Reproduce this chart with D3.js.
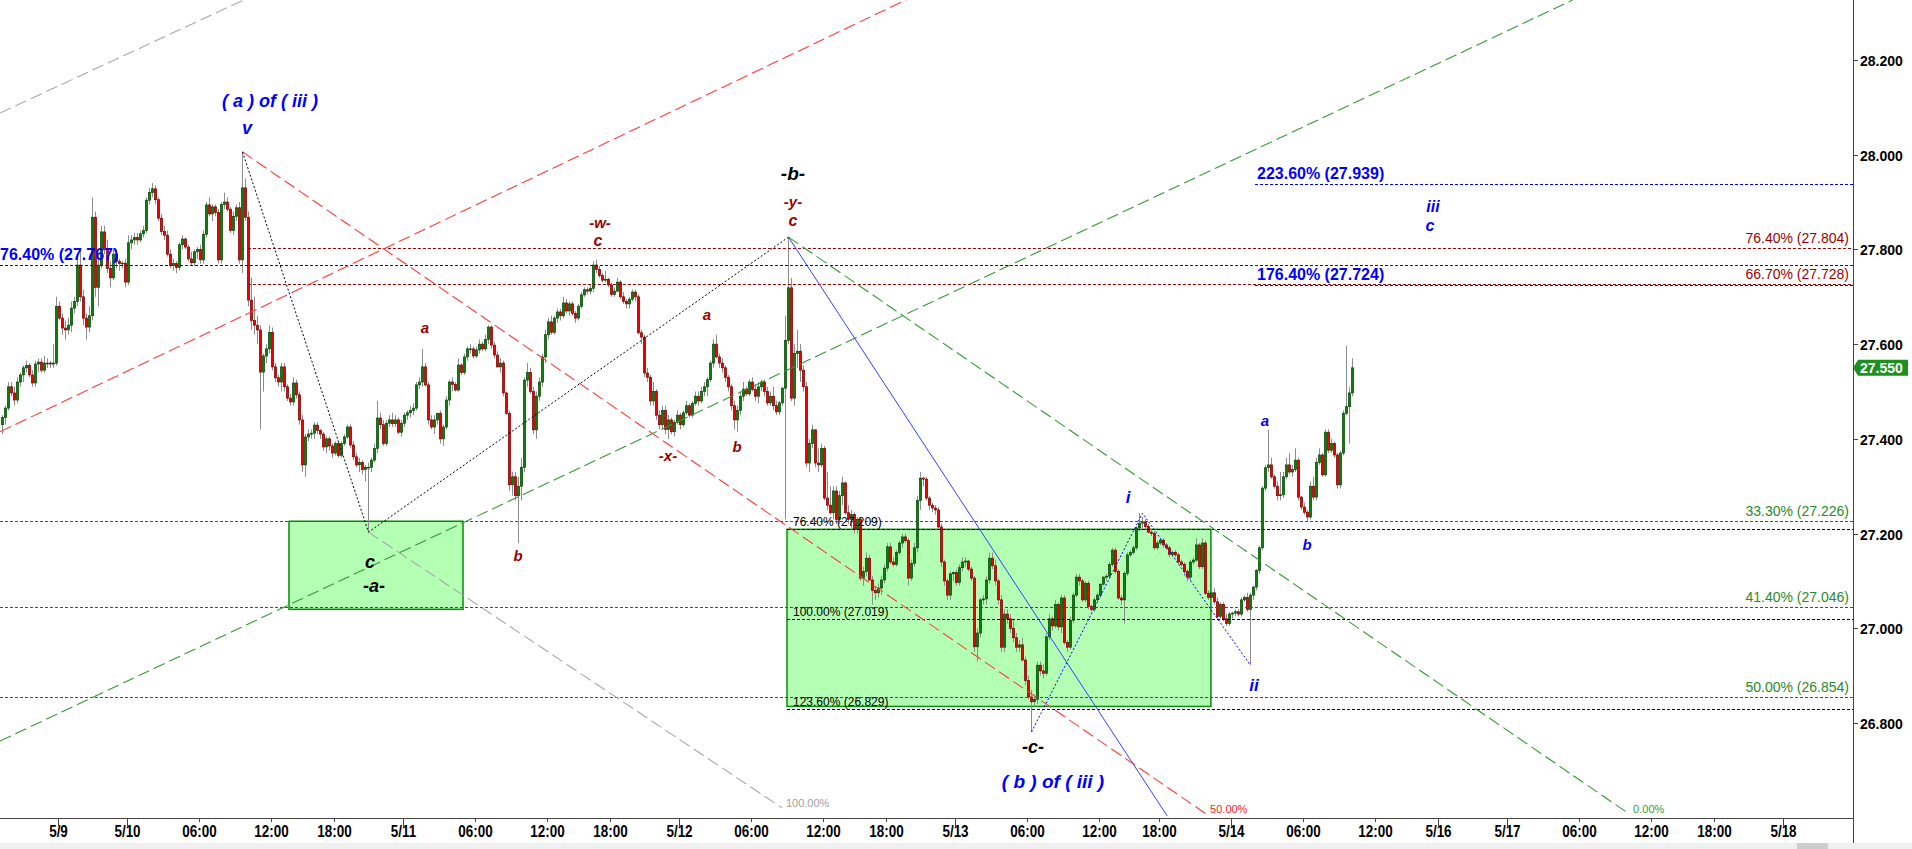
<!DOCTYPE html>
<html><head><meta charset="utf-8">
<script src="https://cdn.jsdelivr.net/npm/d3@7"></script>
<style>
html,body{margin:0;padding:0;background:#fff;overflow:hidden}
svg{display:block}
text{font-family:"Liberation Sans",Arial,Helvetica,sans-serif}
</style>
</head><body>
<svg id="chart" width="1912" height="849"></svg>
<script>
// ---------------- DATA ----------------
const firstBar = -18;            // bar index of the first candle (15-min bars)
const candles = [                // [open, high, low, close]
[27.43,27.45,27.41,27.445],[27.445,27.47,27.43,27.465],[27.465,27.52,27.46,27.51],[27.51,27.52,27.49,27.497],[27.497,27.51,27.47,27.482],
[27.482,27.53,27.475,27.52],[27.52,27.54,27.51,27.535],[27.535,27.555,27.52,27.55],[27.55,27.565,27.54,27.555],[27.555,27.56,27.53,27.535],
[27.535,27.545,27.51,27.518],[27.518,27.565,27.51,27.558],[27.558,27.57,27.54,27.562],[27.562,27.57,27.54,27.545],[27.545,27.575,27.54,27.56],
[27.56,27.57,27.55,27.56],[27.56,27.565,27.55,27.558],[27.558,27.60,27.55,27.56],
// 0
[27.56,27.70,27.555,27.68],[27.68,27.69,27.65,27.655],[27.655,27.665,27.62,27.634],[27.634,27.65,27.61,27.63],[27.63,27.655,27.62,27.64],
[27.64,27.69,27.625,27.676],[27.676,27.70,27.665,27.69],[27.69,27.79,27.68,27.767],[27.767,27.80,27.69,27.70],[27.70,27.715,27.64,27.655],
// 10
[27.655,27.665,27.61,27.636],[27.636,27.68,27.625,27.66],[27.66,27.91,27.65,27.868],[27.868,27.88,27.70,27.72],[27.72,27.79,27.68,27.767],
[27.767,27.85,27.76,27.837],[27.837,27.85,27.79,27.80],[27.80,27.82,27.75,27.76],[27.76,27.775,27.72,27.74],[27.74,27.80,27.735,27.79],
// 20
[27.79,27.80,27.76,27.775],[27.775,27.78,27.755,27.77],[27.77,27.775,27.76,27.771],[27.771,27.78,27.72,27.731],[27.731,27.83,27.725,27.814],
[27.814,27.83,27.80,27.82],[27.82,27.835,27.81,27.825],[27.825,27.835,27.81,27.82],[27.82,27.84,27.815,27.833],[27.833,27.85,27.825,27.84],
// 30
[27.84,27.91,27.835,27.904],[27.904,27.93,27.895,27.92],[27.92,27.94,27.91,27.928],[27.928,27.935,27.895,27.905],[27.905,27.91,27.86,27.866],
[27.866,27.875,27.83,27.838],[27.838,27.85,27.82,27.83],[27.83,27.84,27.785,27.79],[27.79,27.80,27.76,27.766],[27.766,27.78,27.755,27.77],
// 40
[27.77,27.775,27.75,27.762],[27.762,27.815,27.755,27.81],[27.81,27.83,27.80,27.822],[27.822,27.825,27.80,27.805],[27.805,27.81,27.775,27.78],
[27.78,27.795,27.765,27.772],[27.772,27.80,27.765,27.795],[27.795,27.805,27.78,27.80],[27.80,27.81,27.77,27.778],[27.778,27.84,27.77,27.832],
// 50
[27.832,27.90,27.825,27.894],[27.894,27.91,27.87,27.875],[27.875,27.895,27.86,27.89],[27.89,27.895,27.87,27.878],[27.878,27.885,27.77,27.778],
[27.778,27.90,27.77,27.895],[27.895,27.92,27.885,27.90],[27.90,27.91,27.88,27.885],[27.885,27.89,27.835,27.84],[27.84,27.88,27.83,27.87],
// 60
[27.87,27.895,27.86,27.888],[27.888,27.90,27.77,27.778],[27.778,28.006,27.75,27.93],[27.93,27.95,27.86,27.868],[27.868,27.88,27.68,27.693],
[27.693,27.74,27.63,27.65],[27.65,27.70,27.62,27.64],[27.64,27.66,27.60,27.63],[27.63,27.64,27.42,27.541],[27.541,27.58,27.50,27.575],
// 70
[27.575,27.60,27.56,27.59],[27.59,27.64,27.58,27.625],[27.625,27.635,27.545,27.552],[27.552,27.56,27.52,27.529],[27.529,27.535,27.51,27.52],
[27.52,27.56,27.50,27.552],[27.552,27.56,27.50,27.51],[27.51,27.515,27.48,27.486],[27.486,27.495,27.47,27.478],[27.478,27.53,27.47,27.518],
// 80
[27.518,27.525,27.485,27.493],[27.493,27.50,27.43,27.44],[27.44,27.45,27.33,27.345],[27.345,27.41,27.32,27.404],[27.404,27.42,27.395,27.41],
[27.41,27.42,27.40,27.412],[27.412,27.435,27.40,27.429],[27.429,27.435,27.41,27.418],[27.418,27.42,27.40,27.41],[27.41,27.415,27.375,27.383],
// 90
[27.383,27.405,27.37,27.40],[27.40,27.405,27.375,27.385],[27.385,27.39,27.36,27.37],[27.37,27.395,27.365,27.39],[27.39,27.395,27.36,27.365],
[27.365,27.395,27.36,27.39],[27.39,27.41,27.385,27.404],[27.404,27.43,27.40,27.425],[27.425,27.43,27.38,27.387],[27.387,27.395,27.355,27.362],
// 100
[27.362,27.37,27.34,27.345],[27.345,27.36,27.33,27.35],[27.35,27.355,27.325,27.335],[27.335,27.345,27.31,27.34],[27.34,27.35,27.203,27.34],
[27.34,27.36,27.33,27.355],[27.355,27.39,27.35,27.38],[27.38,27.48,27.37,27.444],[27.444,27.455,27.42,27.43],[27.43,27.44,27.385,27.39],
// 110
[27.39,27.44,27.385,27.433],[27.433,27.45,27.425,27.44],[27.44,27.455,27.425,27.432],[27.432,27.45,27.425,27.44],[27.44,27.445,27.41,27.414],
[27.414,27.44,27.405,27.433],[27.433,27.455,27.425,27.45],[27.45,27.46,27.44,27.455],[27.455,27.47,27.445,27.46],[27.46,27.475,27.45,27.465],
// 120
[27.465,27.52,27.46,27.514],[27.514,27.53,27.505,27.52],[27.52,27.59,27.51,27.552],[27.552,27.56,27.51,27.514],[27.514,27.52,27.43,27.44],
[27.44,27.45,27.42,27.425],[27.425,27.45,27.41,27.44],[27.44,27.455,27.43,27.454],[27.454,27.46,27.39,27.40],[27.40,27.43,27.385,27.425],
// 130
[27.425,27.49,27.42,27.482],[27.482,27.525,27.47,27.52],[27.52,27.53,27.50,27.515],[27.515,27.52,27.50,27.503],[27.503,27.57,27.50,27.556],
[27.556,27.56,27.535,27.54],[27.54,27.58,27.535,27.573],[27.573,27.595,27.565,27.59],[27.59,27.60,27.58,27.59],[27.59,27.595,27.57,27.575],
// 140
[27.575,27.595,27.57,27.588],[27.588,27.61,27.58,27.60],[27.60,27.605,27.585,27.59],[27.59,27.62,27.585,27.61],[27.61,27.64,27.60,27.636],
[27.636,27.64,27.59,27.598],[27.598,27.605,27.57,27.577],[27.577,27.585,27.55,27.552],[27.552,27.57,27.54,27.56],[27.56,27.565,27.49,27.497],
// 150
[27.497,27.50,27.45,27.454],[27.454,27.46,27.29,27.303],[27.303,27.33,27.28,27.32],[27.32,27.33,27.27,27.28],[27.28,27.32,27.18,27.30],
[27.30,27.36,27.27,27.34],[27.34,27.53,27.33,27.524],[27.524,27.56,27.51,27.54],[27.54,27.55,27.495,27.50],[27.50,27.51,27.41,27.419],
// 160
[27.419,27.50,27.40,27.49],[27.49,27.53,27.48,27.52],[27.52,27.58,27.51,27.573],[27.573,27.63,27.56,27.62],[27.62,27.655,27.61,27.647],
[27.647,27.66,27.62,27.625],[27.625,27.66,27.62,27.655],[27.655,27.675,27.645,27.668],[27.668,27.675,27.65,27.66],[27.66,27.70,27.655,27.687],
// 170
[27.687,27.695,27.665,27.67],[27.67,27.69,27.66,27.685],[27.685,27.69,27.66,27.665],[27.665,27.67,27.645,27.655],[27.655,27.685,27.65,27.68],
[27.68,27.71,27.675,27.704],[27.704,27.72,27.70,27.715],[27.715,27.72,27.705,27.712],[27.712,27.725,27.705,27.718],[27.718,27.775,27.71,27.767],
// 180
[27.767,27.778,27.75,27.758],[27.758,27.765,27.74,27.745],[27.745,27.75,27.73,27.735],[27.735,27.755,27.73,27.737],[27.737,27.74,27.72,27.725],
[27.725,27.73,27.70,27.705],[27.705,27.72,27.70,27.712],[27.712,27.74,27.71,27.731],[27.731,27.735,27.695,27.70],[27.70,27.71,27.685,27.69],
// 190
[27.69,27.695,27.675,27.685],[27.685,27.70,27.675,27.695],[27.695,27.715,27.69,27.71],[27.71,27.715,27.69,27.70],[27.70,27.705,27.62,27.624],
[27.624,27.63,27.60,27.615],[27.615,27.62,27.53,27.539],[27.539,27.55,27.52,27.53],[27.53,27.535,27.47,27.48],[27.48,27.52,27.47,27.50],
// 200
[27.50,27.505,27.44,27.45],[27.45,27.46,27.42,27.43],[27.43,27.47,27.42,27.46],[27.46,27.47,27.41,27.42],[27.42,27.45,27.40,27.44],
[27.44,27.445,27.41,27.415],[27.415,27.44,27.405,27.435],[27.435,27.46,27.43,27.45],[27.45,27.455,27.42,27.43],[27.43,27.46,27.425,27.455],
// 210
[27.455,27.48,27.45,27.47],[27.47,27.475,27.445,27.45],[27.45,27.48,27.445,27.475],[27.475,27.50,27.47,27.49],[27.49,27.50,27.47,27.48],
[27.48,27.51,27.475,27.50],[27.50,27.52,27.49,27.51],[27.51,27.53,27.49,27.525],[27.525,27.565,27.52,27.56],[27.56,27.61,27.55,27.60],
// 220
[27.60,27.62,27.57,27.573],[27.573,27.58,27.55,27.56],[27.56,27.57,27.54,27.55],[27.55,27.555,27.52,27.53],[27.53,27.535,27.50,27.51],
[27.51,27.515,27.46,27.47],[27.47,27.48,27.42,27.44],[27.44,27.47,27.415,27.46],[27.46,27.50,27.45,27.49],[27.49,27.52,27.48,27.505],
// 230
[27.505,27.51,27.49,27.495],[27.495,27.525,27.49,27.52],[27.52,27.53,27.50,27.504],[27.504,27.515,27.48,27.49],[27.49,27.52,27.475,27.51],
[27.51,27.525,27.50,27.52],[27.52,27.525,27.49,27.50],[27.50,27.51,27.47,27.476],[27.476,27.50,27.47,27.49],[27.49,27.51,27.46,27.47],
// 240
[27.47,27.48,27.45,27.457],[27.457,27.48,27.45,27.476],[27.476,27.51,27.47,27.507],[27.507,27.66,27.23,27.608],[27.608,27.826,27.60,27.719],
[27.719,27.74,27.48,27.486],[27.486,27.60,27.47,27.58],[27.58,27.63,27.55,27.585],[27.585,27.60,27.52,27.545],[27.545,27.555,27.50,27.51],
// 250
[27.51,27.52,27.34,27.349],[27.349,27.40,27.33,27.39],[27.39,27.43,27.38,27.419],[27.419,27.42,27.34,27.349],[27.349,27.38,27.33,27.345],
[27.345,27.39,27.34,27.38],[27.38,27.385,27.27,27.275],[27.275,27.33,27.25,27.26],[27.26,27.30,27.24,27.244],[27.244,27.30,27.23,27.29],
// 260
[27.29,27.30,27.22,27.23],[27.23,27.29,27.22,27.28],[27.28,27.32,27.26,27.307],[27.307,27.31,27.24,27.244],[27.244,27.26,27.22,27.23],
[27.23,27.25,27.21,27.24],[27.24,27.245,27.20,27.21],[27.21,27.235,27.20,27.23],[27.23,27.235,27.10,27.106],[27.106,27.13,27.09,27.12],
// 270
[27.12,27.16,27.11,27.148],[27.148,27.155,27.10,27.102],[27.102,27.11,27.05,27.08],[27.08,27.09,27.06,27.075],[27.075,27.095,27.065,27.085],
[27.085,27.11,27.07,27.102],[27.102,27.135,27.095,27.127],[27.127,27.18,27.12,27.172],[27.172,27.18,27.135,27.14],[27.14,27.15,27.13,27.135],
// 280
[27.135,27.165,27.13,27.16],[27.16,27.185,27.155,27.18],[27.18,27.20,27.17,27.193],[27.193,27.20,27.18,27.185],[27.185,27.19,27.09,27.106],
[27.106,27.145,27.10,27.137],[27.137,27.18,27.13,27.17],[27.17,27.28,27.16,27.27],[27.27,27.33,27.25,27.317],[27.317,27.32,27.30,27.315],
// 290
[27.315,27.32,27.27,27.275],[27.275,27.28,27.25,27.26],[27.26,27.265,27.245,27.254],[27.254,27.26,27.24,27.25],[27.25,27.255,27.21,27.214],
[27.214,27.22,27.13,27.14],[27.14,27.145,27.09,27.10],[27.10,27.105,27.06,27.07],[27.07,27.12,27.06,27.115],[27.115,27.12,27.10,27.118],
// 300
[27.118,27.125,27.09,27.097],[27.097,27.135,27.09,27.128],[27.128,27.15,27.12,27.14],[27.14,27.15,27.13,27.142],[27.142,27.145,27.12,27.125],
[27.125,27.13,27.10,27.106],[27.106,27.11,26.95,26.961],[26.961,27.00,26.93,26.99],[26.99,27.065,26.98,27.06],[27.06,27.07,27.05,27.062],
// 310
[27.062,27.11,27.05,27.102],[27.102,27.16,27.095,27.148],[27.148,27.16,27.125,27.132],[27.132,27.145,27.09,27.10],[27.10,27.105,27.05,27.06],
[27.06,27.07,26.95,26.96],[26.96,27.04,26.95,27.03],[27.03,27.04,27.01,27.02],[27.02,27.03,26.99,27.00],[27.00,27.02,26.97,26.98],
// 320
[26.98,26.99,26.95,26.96],[26.96,26.975,26.95,26.965],[26.965,26.98,26.93,26.933],[26.933,26.94,26.88,26.89],[26.89,26.90,26.85,26.855],
[26.855,26.87,26.781,26.845],[26.845,26.86,26.835,26.85],[26.85,26.93,26.84,26.922],[26.922,26.93,26.90,26.91],[26.91,26.925,26.895,26.905],
// 330
[26.905,26.99,26.90,26.982],[26.982,27.03,26.975,27.02],[27.02,27.025,26.995,27.005],[27.005,27.06,27.00,27.05],[27.05,27.055,26.995,27.003],
[27.003,27.07,26.99,27.064],[27.064,27.07,26.965,26.97],[26.97,26.975,26.95,26.96],[26.96,27.025,26.955,27.017],[27.017,27.075,27.01,27.07],
// 340
[27.07,27.115,27.065,27.108],[27.108,27.115,27.09,27.10],[27.10,27.105,27.055,27.06],[27.06,27.10,27.055,27.095],[27.095,27.10,27.04,27.046],
[27.046,27.05,27.035,27.04],[27.04,27.065,27.035,27.06],[27.06,27.075,27.055,27.07],[27.07,27.095,27.065,27.093],[27.093,27.11,27.09,27.108],
// 350
[27.108,27.115,27.10,27.11],[27.11,27.14,27.105,27.135],[27.135,27.17,27.13,27.165],[27.165,27.17,27.115,27.12],[27.12,27.125,27.06,27.064],
[27.064,27.07,27.05,27.06],[27.06,27.12,27.01,27.116],[27.116,27.16,27.11,27.155],[27.155,27.165,27.15,27.16],[27.16,27.175,27.155,27.17],
// 360
[27.17,27.215,27.165,27.212],[27.212,27.243,27.205,27.222],[27.222,27.235,27.21,27.225],[27.225,27.23,27.21,27.215],[27.215,27.22,27.20,27.203],
[27.203,27.21,27.195,27.20],[27.20,27.205,27.165,27.17],[27.17,27.185,27.165,27.18],[27.18,27.19,27.175,27.186],[27.186,27.19,27.17,27.176],
// 370
[27.176,27.18,27.165,27.17],[27.17,27.175,27.15,27.156],[27.156,27.165,27.15,27.16],[27.16,27.165,27.15,27.155],[27.155,27.16,27.135,27.14],
[27.14,27.145,27.13,27.135],[27.135,27.14,27.11,27.12],[27.12,27.125,27.10,27.108],[27.108,27.145,27.10,27.14],[27.14,27.15,27.135,27.144],
// 380
[27.144,27.19,27.14,27.176],[27.176,27.18,27.125,27.13],[27.13,27.19,27.125,27.18],[27.18,27.185,27.07,27.074],[27.074,27.08,27.06,27.065],
[27.065,27.08,27.06,27.075],[27.075,27.085,27.05,27.056],[27.056,27.065,27.02,27.025],[27.025,27.055,27.02,27.05],[27.05,27.055,27.015,27.02],
// 390
[27.02,27.03,27.005,27.01],[27.01,27.035,27.005,27.03],[27.03,27.035,27.02,27.032],[27.032,27.04,27.025,27.035],[27.035,27.04,27.025,27.03],
[27.03,27.065,27.025,27.06],[27.06,27.07,27.055,27.065],[27.065,27.075,27.035,27.04],[27.04,27.075,26.922,27.07],[27.07,27.09,27.06,27.087],
// 400
[27.087,27.125,27.08,27.122],[27.122,27.175,27.115,27.17],[27.17,27.30,27.165,27.296],[27.296,27.345,27.29,27.339],[27.339,27.419,27.33,27.345],
[27.345,27.36,27.315,27.32],[27.32,27.325,27.295,27.30],[27.30,27.31,27.27,27.28],[27.28,27.33,27.27,27.282],[27.282,27.33,27.275,27.32],
// 410
[27.32,27.36,27.315,27.345],[27.345,27.37,27.325,27.33],[27.33,27.345,27.32,27.335],[27.335,27.38,27.33,27.355],[27.355,27.36,27.27,27.277],
[27.277,27.28,27.25,27.256],[27.256,27.265,27.24,27.245],[27.245,27.25,27.226,27.235],[27.235,27.31,27.23,27.30],[27.30,27.32,27.27,27.277],
// 420
[27.277,27.36,27.27,27.35],[27.35,27.38,27.345,27.366],[27.366,27.37,27.32,27.324],[27.324,27.42,27.32,27.414],[27.414,27.42,27.37,27.376],
[27.376,27.40,27.37,27.39],[27.39,27.395,27.36,27.366],[27.366,27.37,27.295,27.303],[27.303,27.375,27.295,27.37],[27.37,27.46,27.365,27.454],
// 430
[27.454,27.596,27.45,27.468],[27.468,27.51,27.39,27.497],[27.497,27.57,27.49,27.55]
];
const lastPrice = 27.55;

const priceTicks = [28.2, 28.0, 27.8, 27.6, 27.4, 27.2, 27.0, 26.8];
const timeTickBars   = [1, 24, 48, 72, 93, 116, 140, 164, 185, 208, 232, 256, 277, 300, 324, 348, 368, 392, 416, 440, 461, 484, 508, 532, 553, 576];
const timeTickLabels = ['5/9','5/10','06:00','12:00','18:00','5/11','06:00','12:00','18:00','5/12','06:00','12:00','18:00','5/13','06:00','12:00','18:00','5/14','06:00','12:00','5/16','5/17','06:00','12:00','18:00','5/18'];

// Fibonacci levels
const blueLevels      = [27.939, 27.767, 27.724];
const blueLevelFrom   = [400, -20, 400];
const blueLevelText   = ['223.60% (27.939)', '76.40% (27.767)', '176.40% (27.724)'];
const redLevels       = [27.804, 27.728];
const redLevelText    = ['76.40% (27.804)', '66.70% (27.728)'];
const redLevelFrom    = 64.3;
const greenLevels     = [27.226, 27.046, 26.854];
const greenLevelText  = ['33.30% (27.226)', '41.40% (27.046)', '50.00% (26.854)'];
const blackLevels     = [27.209, 27.019, 26.829];
const blackLevelText  = ['76.40% (27.209)', '100.00% (27.019)', '123.60% (26.829)'];
const blackLevelFrom  = 244;

// wave pivots [bar, price]
const pivotV   = [62.5, 28.006];
const pivotC   = [104.5, 27.203];
const pivotB   = [244.5, 27.826];
const pivotCc  = [325.5, 26.781];
const pivotI   = [362.5, 27.243];
const pivotII  = [398.5, 26.922];

// green target boxes [bar0, bar1, priceTop, priceBottom]
const boxes = [[78, 136, 27.226, 27.04], [244, 385.3, 27.209, 26.835]];

// channel lines: [[bar,price],[bar,price]]
const upChannel = [
  {pts:[[-18.33, 28.088],[63, 28.327]],  color:'#a8a8a8'},
  {pts:[[-18.33, 27.415],[283.7, 28.327]], color:'#ff3b3b'},
  {pts:[[-18.33, 26.762],[506, 28.327]], color:'#339933'}
];
const downChannel = [
  {pts:[pivotC, [242.3, 26.621]], color:'#a8a8a8', label:'100.00%', lc:'#a0a0a0'},
  {pts:[pivotV, [383.7, 26.608]], color:'#ff3b3b', label:'50.00%', lc:'#ff2020'},
  {pts:[pivotB, [524.7, 26.608]], color:'#339933', label:'0.00%', lc:'#3a9a3a'}
];
const blueLineEnd = [370.7, 26.604];

// wave labels
const waveLabels = [
  {t:'( a ) of ( iii )', b:71.67, p:28.1008, c:'#0000ff', s:18},
  {t:'v',   b:64,     p:28.0437, c:'#0000ff', s:18},
  {t:'-b-', b:246,    p:27.9466, c:'#000000', s:19},
  {t:'-y-', b:246,    p:27.8896, c:'#990000', s:15},
  {t:'c',   b:246,    p:27.8495, c:'#990000', s:16},
  {t:'-w-', b:181.67, p:27.8453, c:'#990000', s:15},
  {t:'c',   b:181,    p:27.8073, c:'#990000', s:16},
  {t:'a',   b:123.33, p:27.6236, c:'#990000', s:15},
  {t:'a',   b:217.33, p:27.651,  c:'#990000', s:15},
  {t:'b',   b:154.33, p:27.1421, c:'#990000', s:15},
  {t:'-x-', b:204.33, p:27.3533, c:'#990000', s:15},
  {t:'b',   b:227.33, p:27.3723, c:'#990000', s:15},
  {t:'c',   b:105,    p:27.1274, c:'#000000', s:18},
  {t:'-a-', b:106.33, p:27.0767, c:'#000000', s:18},
  {t:'-c-', b:326,    p:26.7367, c:'#000000', s:18},
  {t:'( b ) of ( iii )', b:332.67, p:26.6628, c:'#0000ff', s:19},
  {t:'i',   b:357.67, p:27.2646, c:'#0000ff', s:17},
  {t:'ii',  b:399.67, p:26.8677, c:'#0000ff', s:17},
  {t:'a',   b:403.33, p:27.4272, c:'#0000ff', s:15},
  {t:'b',   b:417.33, p:27.1654, c:'#0000ff', s:15},
  {t:'iii', b:459.33, p:27.879,  c:'#0000ff', s:16},
  {t:'c',   b:458.33, p:27.8389, c:'#0000ff', s:16}
];

// ---------------- DRAW ----------------
const W = 1912, H = 849, plotR = 1853, plotB = 818;
const x = d3.scaleLinear().domain([0, 100]).range([55, 355]);      // 3 px per bar
const y = d3.scaleLinear().domain([26.8, 28.2]).range([723, 60]);

const svg = d3.select('#chart');
svg.append('rect').attr('width', W).attr('height', H).attr('fill', '#ffffff');
svg.append('defs').append('clipPath').attr('id', 'clip')
  .append('rect').attr('x', 0).attr('y', 0).attr('width', plotR).attr('height', plotB);
const g = svg.append('g').attr('clip-path', 'url(#clip)');

// boxes
g.selectAll('rect.box').data(boxes).join('rect')
  .attr('x', d => x(d[0])).attr('width', d => x(d[1]) - x(d[0]))
  .attr('y', d => y(d[2])).attr('height', d => y(d[3]) - y(d[2]))
  .attr('fill', '#b3ffb3').attr('stroke', '#0a8a0a').attr('stroke-width', 1.5);

// candles
const data = candles.map((d, i) => ({b: firstBar + i, o: d[0], h: d[1], l: d[2], c: d[3]}));
g.selectAll('line.wick').data(data).join('line')
  .attr('x1', d => x(d.b + 0.5)).attr('x2', d => x(d.b + 0.5))
  .attr('y1', d => y(d.h)).attr('y2', d => y(d.l))
  .attr('stroke', '#8c8c8c').attr('stroke-width', 1);
g.selectAll('rect.body').data(data).join('rect')
  .attr('x', d => x(d.b + 0.5) - 1.1).attr('width', 2.2)
  .attr('y', d => y(Math.max(d.o, d.c)))
  .attr('height', d => Math.max(0.8, Math.abs(y(d.o) - y(d.c))))
  .attr('fill', d => d.c >= d.o ? '#0b7d0b' : '#f00000')
  .attr('stroke', d => d.c >= d.o ? '#034a03' : '#7a0000')
  .attr('stroke-width', 0.7);

// horizontal fib levels
const hl = (p, from, color) => g.append('line')
  .attr('x1', x(from)).attr('x2', plotR).attr('y1', Math.round(y(p)) + 0.5).attr('y2', Math.round(y(p)) + 0.5)
  .attr('stroke', color).attr('stroke-width', 1).attr('stroke-dasharray', '3,2');
greenLevels.forEach(p => hl(p, -20, '#008000'));
blackLevels.forEach(p => hl(p, blackLevelFrom, '#000000'));
redLevels.forEach(p => hl(p, redLevelFrom, '#8b0000'));
blueLevels.forEach((p, i) => hl(p, blueLevelFrom[i], '#0000ff'));

// channel lines
const lineGen = d3.line().x(d => x(d[0])).y(d => y(d[1]));
upChannel.forEach(l => g.append('path').attr('d', lineGen(l.pts)).attr('fill', 'none')
  .attr('stroke', l.color).attr('stroke-width', 1.1).attr('stroke-dasharray', '12,5'));
downChannel.forEach(l => {
  g.append('path').attr('d', lineGen(l.pts)).attr('fill', 'none')
    .attr('stroke', l.color).attr('stroke-width', 1.1).attr('stroke-dasharray', '12,5');
  g.append('text').attr('x', x(l.pts[1][0]) + 4).attr('y', y(l.pts[1][1]) - 1)
    .attr('font-size', 11).attr('fill', l.lc).text(l.label);
});

// blue solid line
g.append('path').attr('d', lineGen([pivotB, blueLineEnd])).attr('fill', 'none')
  .attr('stroke', '#3040ff').attr('stroke-width', 1);

// wave connectors
g.append('path').attr('d', lineGen([pivotV, pivotC, pivotB])).attr('fill', 'none')
  .attr('stroke', '#000').attr('stroke-width', 1).attr('stroke-dasharray', '2,2');
g.append('path').attr('d', lineGen([pivotCc, pivotI, pivotII])).attr('fill', 'none')
  .attr('stroke', '#0000ff').attr('stroke-width', 1).attr('stroke-dasharray', '2,2');

// level texts
greenLevels.forEach((p, i) => g.append('text').attr('x', plotR - 4).attr('y', y(p) - 5)
  .attr('text-anchor', 'end').attr('font-size', 14).attr('fill', '#2a8a2a').text(greenLevelText[i]));
redLevels.forEach((p, i) => g.append('text').attr('x', plotR - 4).attr('y', y(p) - 5)
  .attr('text-anchor', 'end').attr('font-size', 14).attr('fill', '#990000').text(redLevelText[i]));
blackLevels.forEach((p, i) => g.append('text').attr('x', x(blackLevelFrom) + 6).attr('y', y(p) - 3)
  .attr('font-size', 12).attr('fill', '#000').text(blackLevelText[i]));
blueLevels.forEach((p, i) => g.append('text').attr('x', Math.max(0, x(blueLevelFrom[i]) + 2)).attr('y', y(p) - 5)
  .attr('font-size', 16).attr('font-weight', 'bold').attr('fill', '#0000ff').text(blueLevelText[i]));

// wave labels
g.selectAll('text.wave').data(waveLabels).join('text')
  .attr('x', d => x(d.b)).attr('y', d => y(d.p))
  .attr('text-anchor', 'middle').attr('font-size', d => d.s)
  .attr('font-weight', 'bold').attr('font-style', 'italic')
  .attr('fill', d => d.c).text(d => d.t);

// ---------------- AXES ----------------
// scrollbar strip
svg.append('rect').attr('x', 0).attr('y', 843).attr('width', W).attr('height', 6).attr('fill', '#f0f0f0');
svg.append('rect').attr('x', 1797).attr('y', 843).attr('width', 31).attr('height', 6).attr('fill', '#cdcdcd');

// time axis
svg.append('line').attr('x1', 0).attr('x2', plotR).attr('y1', plotB + 0.5).attr('y2', plotB + 0.5)
  .attr('stroke', '#444').attr('stroke-width', 1);
timeTickBars.forEach((t, i) => {
  const isDate = timeTickLabels[i].includes('/');
  const xx = Math.round(x(t)) + 0.5;
  svg.append('line').attr('x1', xx).attr('x2', xx).attr('y1', plotB).attr('y2', plotB + (isDate ? 8 : 4))
    .attr('stroke', '#444');
  svg.append('text').attr('transform', `translate(${xx},837) scale(0.84,1)`)
    .attr('text-anchor', 'middle').attr('font-size', 16).attr('font-weight', 'bold')
    .attr('fill', '#000').text(timeTickLabels[i]);
});

// price axis
svg.append('line').attr('x1', plotR + 0.5).attr('x2', plotR + 0.5).attr('y1', 0).attr('y2', 843)
  .attr('stroke', '#444').attr('stroke-width', 1);
priceTicks.forEach(p => {
  const yy = Math.round(y(p)) + 0.5;
  svg.append('line').attr('x1', plotR).attr('x2', plotR + 5).attr('y1', yy).attr('y2', yy).attr('stroke', '#444');
  svg.append('text').attr('x', plotR + 7).attr('y', yy + 5).attr('font-size', 14)
    .attr('font-weight', 'bold').attr('fill', '#000').text(p.toFixed(3));
});

// last price tag
const ly = y(lastPrice);
svg.append('path')
  .attr('d', `M${plotR},${ly} L${plotR + 5},${ly - 8} L1908,${ly - 8} L1908,${ly + 8} L${plotR + 5},${ly + 8} Z`)
  .attr('fill', '#1f8f1f');
svg.append('text').attr('x', plotR + 7).attr('y', ly + 5).attr('font-size', 14).attr('font-weight', 'bold')
  .attr('fill', '#fff').text(lastPrice.toFixed(3));
</script>
</body></html>
